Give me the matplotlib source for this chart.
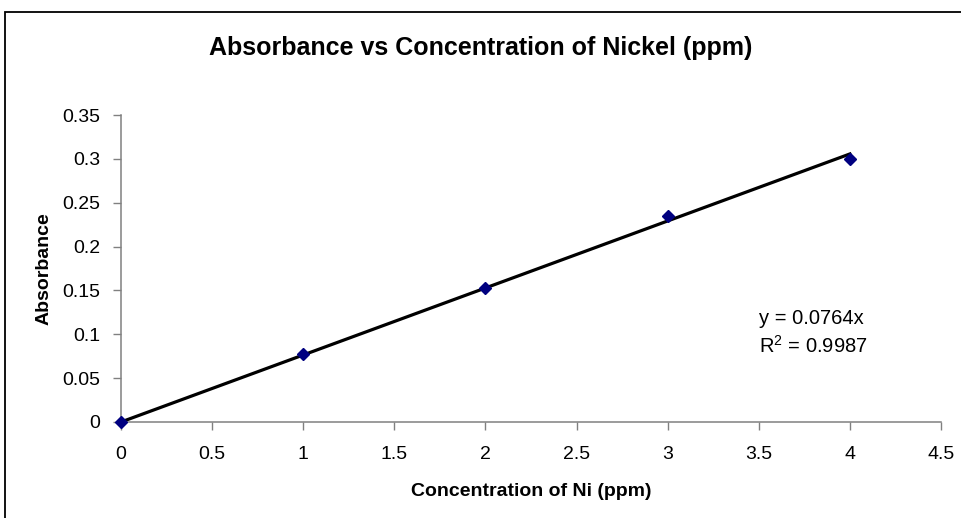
import numpy as np
import matplotlib
matplotlib.use("Agg")
from matplotlib import pyplot as plt
from matplotlib.patches import Rectangle

plt.rcParams['font.family'] = ['Liberation Sans', 'DejaVu Sans']

# data
conc = [0, 1, 2, 3, 4]
absorb = [0.0, 0.078, 0.153, 0.235, 0.300]
slope = 0.0764
r2 = 0.9987
xticks = [0, 0.5, 1, 1.5, 2, 2.5, 3, 3.5, 4, 4.5]
yticks = [0, 0.05, 0.1, 0.15, 0.2, 0.25, 0.3, 0.35]

fig = plt.figure(figsize=(9.62, 5.18), dpi=100)
ax = fig.add_axes([121/962, 1-422/518, 820/962, 307/518])

# chart border (runs off right and bottom edges)
fig.patches.append(Rectangle((5/962, -0.1), 1.1, 1 - 12/518 + 0.1, transform=fig.transFigure,
                             fill=False, edgecolor='black', linewidth=1.3))

fx = np.array([0, 4])
ax.plot(fx, slope*fx, color='black', linewidth=2.3, zorder=2)
ax.plot(conc, absorb, linestyle='none', marker='D', markersize=6.5,
        color='#000080', zorder=3, clip_on=False)

ax.set_xlim(0, 4.5)
ax.set_ylim(0, 0.35)
ax.set_xticks(xticks)
ax.set_yticks(yticks)
ax.set_xticklabels([f'{v:g}' for v in xticks])
ax.set_yticklabels([f'{v:g}' for v in yticks])
for s in ['top', 'right']:
    ax.spines[s].set_visible(False)
for s in ['left', 'bottom']:
    ax.spines[s].set_color('#808080')
    ax.spines[s].set_linewidth(1.1)
ax.tick_params(axis='both', direction='out', length=5.5, width=1, color='#808080', labelsize=14)
ax.tick_params(axis='x', pad=12)
ax.tick_params(axis='y', pad=9.5)

ax.set_xlabel('Concentration of Ni (ppm)', fontsize=14, fontweight='bold', labelpad=14)
ax.set_ylabel('Absorbance', fontsize=14, fontweight='bold', labelpad=7)
fig.text(0.5, 1-55/518, 'Absorbance vs Concentration of Nickel (ppm)', ha='center', va='baseline',
         fontsize=18, fontweight='bold')

ax.text(3.5, 0.1117, f'y = {slope}x', fontsize=14.5, va='baseline', ha='left')
ax.text(3.5, 0.0787, f'$\\mathregular{{R^2}}$ = {r2}', fontsize=14.5, va='baseline', ha='left')

fig.savefig('out.png', dpi=100)
